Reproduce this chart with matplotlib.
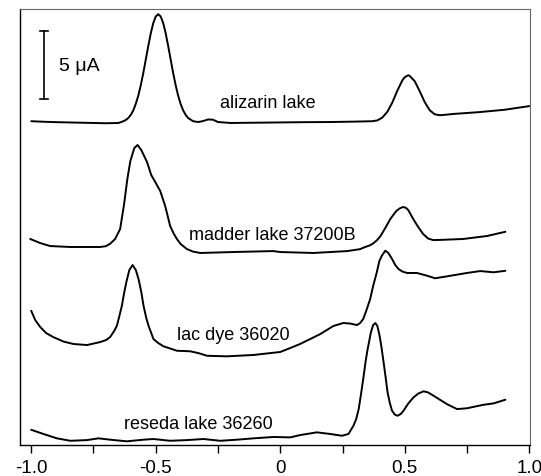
# Stacked square-wave voltammograms of lake pigments
import matplotlib
matplotlib.use('Agg')
import matplotlib.pyplot as plt

plt.rcParams['font.family'] = ['Liberation Sans', 'DejaVu Sans']

# potential (V) and current (uA, relative to each trace's own baseline)
alizarin_E = [-1.00, -0.95, -0.90, -0.80, -0.70, -0.65, -0.64, -0.63, -0.62, -0.61, -0.60,
              -0.59, -0.58, -0.57, -0.56, -0.55, -0.54, -0.53, -0.52, -0.51, -0.50, -0.49,
              -0.48, -0.47, -0.46, -0.45, -0.44, -0.43, -0.42, -0.41, -0.40, -0.39, -0.38,
              -0.37, -0.35, -0.33, -0.31, -0.29, -0.27, -0.25, -0.20, -0.10, 0.00, 0.10,
              0.20, 0.30, 0.37, 0.39, 0.41, 0.43, 0.45, 0.47, 0.49, 0.50, 0.514, 0.52,
              0.54, 0.56, 0.58, 0.60, 0.62, 0.64, 0.66, 0.70, 0.80, 0.90, 1.00]
alizarin_I = [0.11, 0.07, 0.04, 0.00, -0.04, -0.02, 0.04, 0.11, 0.20, 0.35, 0.58,
              0.91, 1.40, 1.99, 2.76, 3.65, 4.64, 5.64, 6.57, 7.32, 7.81, 7.98,
              7.81, 7.32, 6.57, 5.64, 4.64, 3.65, 2.76, 1.99, 1.38, 0.91, 0.58,
              0.35, 0.11, 0.05, 0.12, 0.24, 0.22, 0.05, -0.02, 0.00, 0.02, 0.04,
              0.05, 0.08, 0.11, 0.17, 0.38, 0.80, 1.48, 2.35, 3.10, 3.35, 3.49, 3.44,
              3.05, 2.32, 1.52, 0.92, 0.62, 0.55, 0.58, 0.65, 0.78, 0.95, 1.22]

madder_E = [-1.004, -0.964, -0.924, -0.843, -0.723, -0.700, -0.683, -0.663, -0.643, -0.627,
            -0.614, -0.602, -0.586, -0.573, -0.558, -0.535, -0.518, -0.502, -0.482, -0.462,
            -0.442, -0.428, -0.415, -0.400, -0.375, -0.350, -0.321, -0.189, -0.028, 0.000,
            0.133, 0.269, 0.320, 0.341, 0.360, 0.373, 0.388, 0.402, 0.422, 0.442, 0.466,
            0.480, 0.493, 0.504, 0.514, 0.534, 0.554, 0.574, 0.594, 0.614, 0.640, 0.735,
            0.831, 0.904]
madder_I = [0.65, 0.35, 0.13, 0.06, 0.06, 0.12, 0.30, 0.65, 1.38, 3.22,
            5.06, 6.38, 7.34, 7.56, 7.19, 6.31, 5.35, 4.84, 4.18, 3.07,
            1.60, 1.05, 0.65, 0.28, -0.09, -0.28, -0.38, -0.31, -0.24, -0.31,
            -0.38, -0.24, -0.10, 0.06, 0.18, 0.32, 0.55, 0.85, 1.46, 2.12, 2.71,
            2.90, 3.00, 2.95, 2.78, 2.12, 1.53, 1.01, 0.68, 0.57, 0.58, 0.65,
            0.87, 1.18]

lac_E = [-1.000, -0.984, -0.964, -0.940, -0.912, -0.871, -0.831, -0.776, -0.723, -0.699,
         -0.683, -0.667, -0.656, -0.647, -0.636, -0.627, -0.618, -0.606, -0.593, -0.580,
         -0.569, -0.558, -0.549, -0.538, -0.529, -0.509, -0.490, -0.469, -0.415, -0.361,
         -0.329, -0.294, -0.214, -0.107, 0.000, 0.040, 0.080, 0.120, 0.161, 0.213,
         0.253, 0.281, 0.308, 0.321, 0.333, 0.345, 0.361, 0.373, 0.388, 0.398,
         0.408, 0.422, 0.434, 0.449, 0.462, 0.475, 0.490, 0.509, 0.549, 0.589,
         0.622, 0.669, 0.750, 0.803, 0.857, 0.904]
lac_I = [3.07, 2.39, 1.88, 1.43, 1.14, 0.81, 0.63, 0.55, 0.77, 0.92,
         1.14, 1.58, 1.97, 2.61, 3.44, 4.38, 5.18, 6.07, 6.43, 6.07,
         5.40, 4.45, 3.44, 2.54, 1.97, 0.99, 0.70, 0.46, 0.13, 0.09,
         -0.04, -0.24, -0.28, -0.18, 0.04, 0.33, 0.63, 0.99, 1.36, 1.95,
         2.17, 2.13, 2.02, 2.17, 2.46, 3.05, 3.93, 4.89, 5.92, 6.73,
         7.12, 7.49, 7.32, 6.88, 6.43, 6.14, 5.96, 5.85, 5.85, 5.65,
         5.46, 5.60, 5.85, 5.99, 5.90, 6.01]

reseda_E = [-1.000, -0.951, -0.897, -0.843, -0.776, -0.730, -0.683, -0.616, -0.549, -0.509,
            -0.442, -0.375, -0.308, -0.241, -0.174, -0.107, -0.027, 0.040, 0.080, 0.147,
            0.201, 0.248, 0.274, 0.294, 0.305, 0.315, 0.325, 0.335, 0.343, 0.351,
            0.364, 0.373, 0.382, 0.390, 0.399, 0.407, 0.415, 0.423, 0.431, 0.440,
            0.449, 0.460, 0.471, 0.484, 0.495, 0.514, 0.535, 0.554, 0.576, 0.594,
            0.616, 0.643, 0.669, 0.710, 0.750, 0.783, 0.817, 0.857, 0.904]
reseda_I = [0.77, 0.46, 0.14, -0.04, 0.01, 0.14, 0.04, -0.08, 0.04, 0.09,
            -0.04, 0.01, 0.09, -0.04, 0.04, 0.14, 0.24, 0.21, 0.38, 0.58,
            0.46, 0.33, 0.46, 1.07, 1.56, 2.29, 3.47, 4.74, 5.82, 6.71,
            7.93, 8.47, 8.62, 8.40, 7.68, 6.78, 5.73, 4.65, 3.52, 2.74,
            2.17, 1.89, 1.80, 1.93, 2.17, 2.70, 3.15, 3.43, 3.60, 3.51,
            3.27, 2.96, 2.66, 2.29, 2.35, 2.48, 2.61, 2.71, 2.98]

names = ['alizarin lake', 'madder lake 37200B', 'lac dye 36020', 'reseda lake 36260']
offsets = [23.7, 14.5, 6.8, 0.35]          # vertical stacking offsets (uA)
label_pos = [(-0.048, 25.2), (-0.03, 15.45), (-0.19, 8.15), (-0.328, 1.6)]

traces = [(alizarin_E, alizarin_I), (madder_E, madder_I), (lac_E, lac_I), (reseda_E, reseda_I)]

fig = plt.figure(figsize=(5.41, 4.77), dpi=100)
ax = fig.add_axes([0.037, 0.065, 0.9427, 0.914])

for (E, I), off, name, (lx, ly) in zip(traces, offsets, names, label_pos):
    ax.plot(E, [i + off for i in I], color='black', lw=1.4,
            solid_joinstyle='round', solid_capstyle='round')
    ax.text(lx, ly, name, fontsize=13, ha='center', va='center')

# 5 uA scale bar
bar_x, bar_y0, bar_len = -0.948, 25.44, 5.0
ax.plot([bar_x, bar_x], [bar_y0, bar_y0 + bar_len], color='black', lw=1.2)
ax.plot([bar_x - 0.017, bar_x + 0.017], [bar_y0, bar_y0], color='black', lw=1.2)
ax.plot([bar_x - 0.017, bar_x + 0.017], [bar_y0 + bar_len, bar_y0 + bar_len], color='black', lw=1.2)
ax.text(-0.888, bar_y0 + bar_len / 2, '5 \u03bcA', fontsize=14, ha='left', va='center')

ax.set_xlim(-1.045, 1.003)
ax.set_ylim(0, 32.06)
ax.set_yticks([])
ticks = [-1.0, -0.75, -0.5, -0.25, 0.0, 0.25, 0.5, 0.75, 1.0]
ax.set_xticks(ticks)
ax.set_xticklabels(['-1.0', '', '-0.5', '', '0', '', '0.5', '', '1.0'], fontsize=13.5)
ax.tick_params(axis='x', direction='out', length=6, width=1, pad=4)

for side in ['left', 'bottom']:
    ax.spines[side].set_color('black')
    ax.spines[side].set_linewidth(1.0)
for side in ['top', 'right']:
    ax.spines[side].set_color('#666666')
    ax.spines[side].set_linewidth(0.8)

fig.savefig('out.png', dpi=100)
plt.close(fig)
